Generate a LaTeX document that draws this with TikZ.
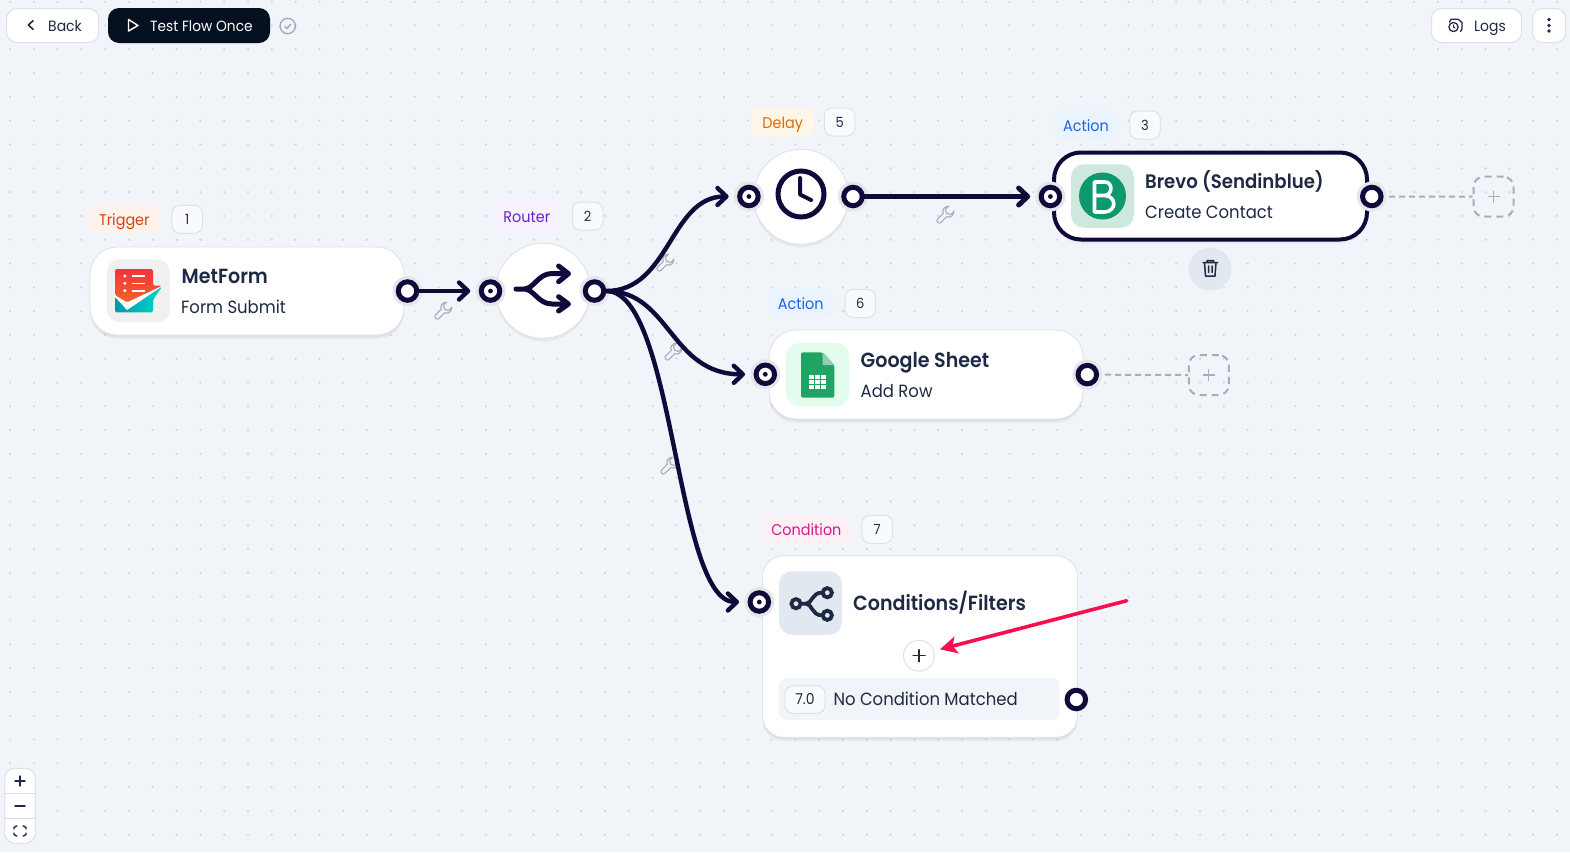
\documentclass[tikz,border=0pt]{standalone}
\usepackage{fontspec}
\setmainfont{Poppins}[FakeStretch=0.93,BoldFont={Poppins SemiBold},BoldFeatures={FakeStretch=0.93}]
\usetikzlibrary{arrows.meta,shadows,shapes.geometric}
\definecolor{bgc}{HTML}{F1F4F9}
\definecolor{dotc}{HTML}{D2D6DD}
\definecolor{edgec}{HTML}{0F0A3A}
\definecolor{ink}{HTML}{1E2A44}
\definecolor{bord}{HTML}{DEE1E6}
\definecolor{halo}{HTML}{E3E6EB}
\definecolor{dashc}{HTML}{A9ADB9}
\definecolor{redarrow}{HTML}{F90F50}
\definecolor{F8}{HTML}{F8FAFC}
\definecolor{navy}{HTML}{051020}
\definecolor{chk}{HTML}{9BA9BE}
\definecolor{trigF}{HTML}{FDF3EC}\definecolor{trigT}{HTML}{D9420F}
\definecolor{rouF}{HTML}{F7F2FD}\definecolor{rouT}{HTML}{6D1FD0}
\definecolor{delF}{HTML}{FEF6E7}\definecolor{delT}{HTML}{DB6A0A}
\definecolor{actF}{HTML}{E9F4FE}\definecolor{actT}{HTML}{1A62E8}
\definecolor{conF}{HTML}{FDF0F5}\definecolor{conT}{HTML}{D01A8C}
\definecolor{tileG}{HTML}{F0F0F0}\definecolor{tileB}{HTML}{CFE8DD}\definecolor{brevoG}{HTML}{0B996E}
\definecolor{slate}{HTML}{E2E8F0}\definecolor{tileS}{HTML}{E2FDEE}\definecolor{sheetG}{HTML}{1FA463}\definecolor{sheetL}{HTML}{8ED1B1}
\definecolor{tealA}{HTML}{0096AF}\definecolor{tealB}{HTML}{00D7C3}\definecolor{redA}{HTML}{F5323C}\definecolor{redB}{HTML}{F06428}
\tikzset{
  x=1pt,y=-1pt,
  card/.style={draw=bord,line width=.8pt,fill=white,inner sep=0pt,rounded corners=27pt,
    drop shadow={shadow xshift=0pt,shadow yshift=-4pt,fill=black,opacity=.035},
    drop shadow={shadow xshift=0pt,shadow yshift=-2pt,fill=black,opacity=.05}},
  rnode/.style={circle,draw=bord,line width=.8pt,fill=white,inner sep=0pt,minimum size=95pt,
    drop shadow={shadow xshift=0pt,shadow yshift=-3pt,fill=black,opacity=.05}},
  pill/.style={rounded corners=9pt,inner sep=0pt,font=\fontsize{15.5}{18}\selectfont,text height=12pt,text depth=0pt,minimum height=28.5pt},
  badge/.style={rounded corners=8pt,draw=bord,line width=1pt,fill=F8,inner sep=0pt,text=ink,font=\fontsize{14}{16}\selectfont,text height=10pt,text depth=0pt,minimum height=28pt,minimum width=30.5pt},
  btn/.style={rounded corners=10pt,draw=bord,line width=1pt,fill=white,inner sep=0pt},
  title/.style={anchor=base west,inner sep=0pt,text=ink,font=\fontsize{20.5}{24}\selectfont\bfseries},
  subt/.style={anchor=base west,inner sep=0pt,text=ink,font=\fontsize{17.7}{22}\selectfont},
  toptext/.style={anchor=base west,inner sep=0pt,font=\fontsize{15}{18}\selectfont},
  tile/.style={rounded corners=13pt,inner sep=0pt,minimum width=63pt,minimum height=63.5pt},
  inport/.style={circle,draw=edgec,line width=5pt,fill=white,inner sep=0pt,minimum size=18.5pt},
  outport/.style={circle,draw=edgec,line width=5pt,fill=white,inner sep=0pt,minimum size=18.5pt},
  haloc/.style={circle,fill=halo,inner sep=0pt,minimum size=30pt},
  flow/.style={draw=edgec,line width=4.4pt,line cap=round,-{Straight Barb[length=9pt,width=17pt,round]}},
  dashline/.style={draw=dashc,line width=2pt,dash pattern=on 6pt off 4pt},
  dashbox/.style={draw=dashc,line width=2pt,dash pattern=on 7pt off 5pt,rounded corners=10pt,inner sep=0pt,minimum width=40pt,minimum height=40pt},
  icon/.style={draw=ink,line width=1.6pt,line cap=round,line join=round},
  wrench/.pic={\draw[dashc,line width=1.1pt,line join=round,scale=1.2,rotate=-45]
    (-2,7) -- (-2,0) .. controls (-5,-1) and (-5.5,-5) .. (-3,-7.5) -- (-3,-3.5) -- (0,-2) -- (3,-3.5) -- (3,-7.5)
    .. controls (5.5,-5) and (5,-1) .. (2,0) -- (2,7) .. controls (2,9) and (-2,9) .. (-2,7) -- cycle;},
}
\newcommand{\inp}[3]{\node[haloc] at (#2,#3) {};\node[inport] (#1) at (#2,#3) {};\fill[edgec] (#1.center) circle (2.4pt);}
\newcommand{\outp}[3]{\node[haloc] at (#2,#3) {};\node[outport] (#1) at (#2,#3) {};}
\begin{document}
\begin{tikzpicture}
\useasboundingbox (0,0) rectangle (1570,852);
\fill[bgc] (0,0) rectangle (1570,852);
\foreach \i in {0,...,65} \foreach \j in {0,...,35}
  \fill[dotc] ({10+23.8*\i},{1.7+23.8*\j}) circle (1.2pt);

% top bar
\node[btn,minimum width=92pt,minimum height=34pt] (back) at (52.7,25.5) {};
\draw[icon] (33,20.7) -- (28.5,25) -- (33,29.3);
\node[toptext,text=ink] (backt) at (48,31) {Back};
\node[rounded corners=11pt,minimum width=162pt,minimum height=35pt,inner sep=0pt,fill=navy] (test) at (189,25.5) {};
\draw[white,line width=1.4pt,line join=round] (128.5,19.5) -- (138,25.5) -- (128.5,31) -- cycle;
\node[toptext,text=white,font=\fontsize{14.8}{18}\selectfont] (testt) at (150,31) {Test Flow Once};
\draw[chk,line width=1.3pt] (287.7,26) circle (7.7pt);
\draw[chk,line width=1.3pt] (284.5,26.3) -- (286.9,28.6) -- (291,24);
\node[btn,minimum width=90pt,minimum height=34pt] (logs) at (1476.5,25.5) {};
\draw[icon,line width=1.3pt] (1453.5,27) circle (4.6pt);
\draw[icon,line width=1.3pt] (1449.5,22) -- (1451,19.2) -- (1458,19.2) -- (1462,22.5) -- (1462,29) -- (1460.5,31.5);
\draw[icon,line width=1pt] (1453.5,24.8) -- (1453.5,27) -- (1455,28);
\node[toptext,text=ink] (logst) at (1474,31) {Logs};
\node[btn,minimum width=33pt,minimum height=34pt] (more) at (1549,25.5) {};
\foreach \y in {19.5,25.5,31} \fill[ink] (1549,\y) circle (1.9pt);

% zoom panel
\node[btn,minimum width=30.5pt,minimum height=75pt] (panel) at (20,805.8) {};
\draw[bord,line width=1pt] (panel.west |- 0,793.3) -- (panel.east |- 0,793.3);
\draw[bord,line width=1pt] (panel.west |- 0,818.3) -- (panel.east |- 0,818.3);
\draw[icon,line width=1.4pt] (15,781) -- (25,781) (20,776) -- (20,786);
\draw[icon,line width=1.4pt] (15,806) -- (25,806);
\draw[icon,line width=1.4pt] (14,829) -- (14,827.5) -- (16.5,826) -- (17,826) (23,826) -- (23.5,826) -- (26,827.5) -- (26,829)
  (26,833) -- (26,834.5) -- (23.5,836) -- (23,836) (17,836) -- (16.5,836) -- (14,834.5) -- (14,833);

% cards
\node[card,minimum width=314pt,minimum height=88pt] (metform) at (247,291) {};
\node[rnode] (router) at (543,290.7) {};
\node[rnode] (delay) at (801,196.7) {};
\node[card,draw=edgec,line width=4pt,minimum width=313pt,minimum height=87pt] (brevo) at (1210.5,196) {};
\node[card,minimum width=314pt,minimum height=89pt] (sheet) at (926,374.5) {};
\node[card,rounded corners=21pt,minimum width=315pt,minimum height=181.5pt] (cond) at (920,646.5) {};

% labels above
\node[pill,fill=trigF,text=trigT,minimum width=71.5pt] (ptrig) at (124.3,219.3) {Trigger};
\node[badge] (b1) at (187.2,219.3) {1};
\node[pill,fill=rouF,text=rouT,minimum width=67.5pt] (prout) at (526.8,216) {Router};
\node[badge] (b2) at (587.5,216) {2};
\node[pill,fill=delF,text=delT,minimum width=62.5pt] (pdel) at (782.7,122) {Delay};
\node[badge] (b5) at (839.7,122) {5};
\node[pill,fill=actF,text=actT,minimum width=64pt] (pact1) at (1086,125) {Action};
\node[badge] (b3) at (1145,125) {3};
\node[pill,fill=actF,text=actT,minimum width=65pt] (pact2) at (800.8,303.2) {Action};
\node[badge] (b6) at (860.3,303.5) {6};
\node[pill,fill=conF,text=conT,minimum width=88.7pt] (pcond) at (806.4,529.2) {Condition};
\node[badge] (b7) at (877.2,529.3) {7};

% MetForm
\node[tile,fill=tileG,minimum height=63pt] (tm) at (138.3,290.8) {};
\shade[left color=tealA,right color=tealB,rounded corners=1.5pt]
  (115,296.7) -- (127,310) -- (162,286.7) -- (153,300) -- (153,312.3) -- (115,312.3) -- cycle;
\fill[white] (115,295) -- (127,302.3) -- (162,285.7) -- (127,310) -- (115,296.7) -- cycle;
\shade[top color=redA,bottom color=redB,rounded corners=1.5pt]
  (115,269) -- (153,269) -- (153,285.7) -- (162,285.7) -- (127,302.3) -- (115,295) -- cycle;
\foreach \y in {276,283.3,290.7} {\fill[white] (124.8,\y) circle (1.7pt); \draw[white,line width=1.6pt] (131.6,\y) -- (145.4,\y);}
\node[title] (tm1) at (181.5,283.3) {MetForm};
\node[subt] (tm2) at (181,313.3) {Form Submit};

% router icon
\draw[edgec,line width=5pt,line cap=round,line join=round]
  (516,289) -- (524,289) .. controls (534,289) and (538,273.5) .. (552,273.5) -- (567,273.5)
  (524,289) .. controls (534,289) and (538,304) .. (552,304) -- (567,304)
  (558.6,266) -- (568.5,273.7) -- (558.6,281.7)
  (558.6,296.7) -- (568.5,304) -- (558.6,311);

% clock icon
\draw[edgec,line width=5pt] (801,194) circle (23pt);
\draw[edgec,line width=4pt,line cap=round,line join=round] (800,178) -- (800,194.5) -- (811,200);

% Brevo
\node[tile,fill=tileB] (tb) at (1102.5,196) {};
\node[circle,fill=brevoG,minimum size=47pt,inner sep=0pt] (bc) at (1102.5,196) {};
\draw[white,line width=3.6pt,line join=round,line cap=round]
  (1094.5,212) -- (1094.5,182) -- (1105,182) .. controls (1113,182) and (1113,195.5) .. (1104,195.5) -- (1094.5,195.5)
  (1104,195.5) .. controls (1117,195.5) and (1117,212) .. (1104,212) -- (1094.5,212);
\node[title,font=\fontsize{19.5}{24}\selectfont\bfseries] (tb1) at (1145,188.3) {Brevo (Sendinblue)};
\node[subt] (tb2) at (1145,218.3) {Create Contact};
% trash
\node[circle,fill=slate,minimum size=43pt,inner sep=0pt] (trash) at (1210,269) {};
\draw[icon,line width=1.5pt] (1203,262.5) -- (1217.5,262.5) (1207,262.5) -- (1207,260.5) -- (1213.5,260.5) -- (1213.5,262.5)
  (1204.5,262.5) -- (1205.5,276) -- (1215,276) -- (1216,262.5) (1208.5,266) -- (1208.5,272.5) (1212,266) -- (1212,272.5);

% Sheet
\node[tile,fill=tileS] (ts) at (817.7,374.7) {};
\fill[sheetG,rounded corners=2pt] (801,352.3) -- (822.5,352.3) -- (834.3,365) -- (834.3,397.7) -- (801,397.7) -- cycle;
\fill[sheetL] (822.5,352.3) -- (834.3,365) -- (822.5,365) -- cycle;
\fill[white] (809,375) rectangle (826.3,389.3);
\draw[sheetG,line width=1.1pt] (814.8,375) -- (814.8,389.3) (820.5,375) -- (820.5,389.3) (809,379.8) -- (826.3,379.8) (809,384.5) -- (826.3,384.5);
\node[title] (ts1) at (860.5,367.2) {Google Sheet};
\node[subt] (ts2) at (860.5,397) {Add Row};

% Condition
\node[tile,fill=slate] (tc) at (810.5,603) {};
\draw[ink,line width=3.8pt,line join=round] (801,603.7) -- (806,603.7) .. controls (812,603.7) and (812,592.7) .. (821.5,592.7)
  (806,603.7) .. controls (812,603.7) and (812,615.3) .. (821.5,615.3);
\foreach \a/\b in {796/603.7,827.3/592.7,827.3/615.3} \draw[ink,line width=3.8pt] (\a,\b) circle (4.6pt);
\node[title] (tc1) at (853,610) {Conditions/Filters};
\node[circle,draw=bord,line width=1pt,fill=white,minimum size=31pt,inner sep=0pt] (addc) at (919,655.7) {};
\draw[icon,line width=1.5pt] (913,655.7) -- (925,655.7) (919,649.7) -- (919,661.7);
\node[rounded corners=8pt,fill=bgc,inner sep=0pt,minimum width=280.5pt,minimum height=42pt] (nobar) at (919.2,699) {};
\node[badge,fill=F8,minimum width=40pt,minimum height=27.5pt,font=\fontsize{15}{18}\selectfont] (b70) at (805,699.5) {7.0};
\node[subt] (nobart) at (833.3,705) {No Condition Matched};

% ports
\outp{mout}{407.5}{291}
\inp{rin}{490.5}{291}
\outp{rout}{594.5}{291}
\inp{din}{748.9}{196.5}
\outp{dout}{853}{196.5}
\inp{bin}{1050.4}{196.5}
\outp{bout}{1371.8}{196.5}
\inp{sin}{765.3}{374.3}
\outp{sout}{1087.3}{374.6}
\inp{cin}{759.3}{602}
\node[outport] (cout) at (1076.3,699.5) {};

% wrenches lie under the connectors
\pic at (443,311) {wrench};
\pic at (945,215) {wrench};
\pic at (665,263) {wrench};
\pic at (673,352) {wrench};
\pic at (669,466) {wrench};

% connectors
\draw[flow,shorten >=8.5pt] (mout.east) -- (rin.west);
\draw[flow,shorten >=8.5pt] (rout.east) .. controls (670,291) and (670,196.5) .. (din.west);
\draw[flow,shorten >=8.5pt] (rout.east) .. controls (670,291) and (670,374.3) .. (sin.west);
\draw[flow,shorten >=8.5pt] (rout.east) .. controls (675,291) and (675,602) .. (cin.west);
\draw[flow,line width=5pt,shorten >=8.5pt] (dout.east) -- (bin.west);

% dashed stubs
\node[dashbox] (addb) at (1493.5,196.7) {};
\node[dashbox] (adds) at (1208.8,375) {};
\coordinate (bstub) at (1389,196.5);
\coordinate (sstub) at (1105,374.7);
\draw[dashline] (bstub) -- (addb.west);
\draw[dashline] (sstub) -- (adds.west);
\draw[dashc,line width=1.2pt] (1487.5,196.7) -- (1499.5,196.7) (1493.5,190.7) -- (1493.5,202.7);
\draw[dashc,line width=1.2pt] (1202.8,375) -- (1214.8,375) (1208.8,369) -- (1208.8,381);

% red arrow
\coordinate (rstart) at (1126.7,600.7);
\coordinate (rtip) at (940,649.3);
\draw[redarrow,line width=3.6pt,line cap=round,-{Stealth[length=17pt,width=17pt,inset=4pt]}] (rstart) -- (rtip);
\end{tikzpicture}
\end{document}
